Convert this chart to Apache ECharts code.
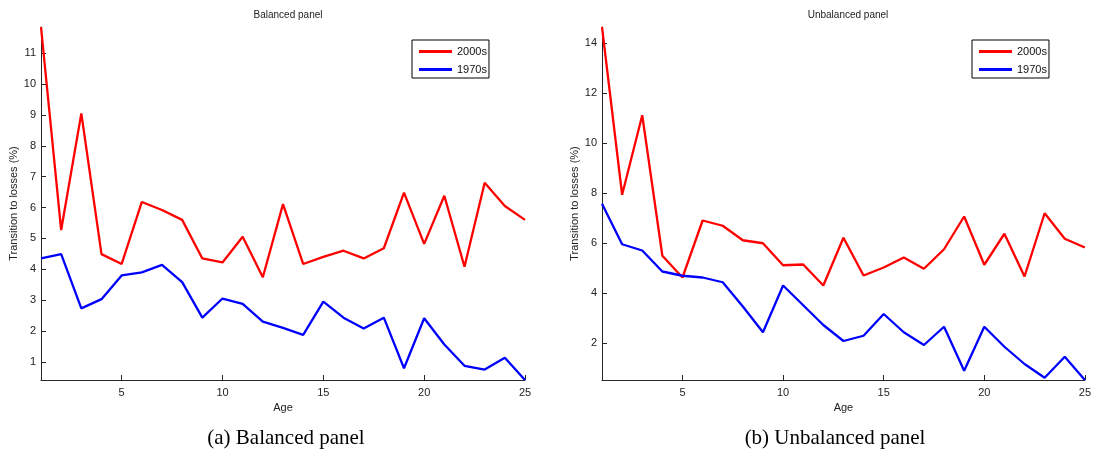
<!DOCTYPE html>
<html>
<head>
<meta charset="utf-8">
<script src="https://cdn.jsdelivr.net/npm/echarts@6/dist/echarts.min.js"></script>
<style>
html,body{margin:0;padding:0;background:#fff;}
#chart{width:1094px;height:461px;}
</style>
</head>
<body>
<div id="chart"></div>
<script>
// ---- data ----
const ages = [1,2,3,4,5,6,7,8,9,10,11,12,13,14,15,16,17,18,19,20,21,22,23,24,25];
const balanced2000s = [11.85,5.27,9.05,4.49,4.17,6.18,5.92,5.60,4.35,4.22,5.05,3.74,6.11,4.17,4.40,4.60,4.35,4.68,6.48,4.82,6.38,4.08,6.80,6.05,5.60];
const balanced1970s = [4.35,4.49,2.73,3.03,3.80,3.90,4.14,3.58,2.43,3.05,2.88,2.30,2.10,1.87,2.95,2.43,2.08,2.43,0.79,2.41,1.56,0.87,0.75,1.13,0.41];
const unbalanced2000s = [14.65,7.94,11.12,5.50,4.63,6.91,6.70,6.12,6.00,5.12,5.15,4.31,6.22,4.71,5.03,5.43,4.98,5.76,7.07,5.14,6.38,4.67,7.20,6.18,5.83];
const unbalanced1970s = [7.58,5.96,5.71,4.87,4.70,4.63,4.44,3.47,2.44,4.31,3.52,2.73,2.09,2.30,3.17,2.44,1.93,2.66,0.90,2.66,1.86,1.17,0.62,1.46,0.53];
const xTicks = [5,10,15,20,25];
const yTicksBalanced = [1,2,3,4,5,6,7,8,9,10,11];
const yTicksUnbalanced = [2,4,6,8,10,12,14];
const seriesNames = ['2000s','1970s'];
const panelTitles = ['Balanced panel','Unbalanced panel'];
const captions = ['(a) Balanced panel','(b) Unbalanced panel'];
const xName = 'Age';
const yName = 'Transition to losses (%)';

const pairs = (ys) => ages.map((a,i)=>[a, ys[i]]);
const FONT = 'Liberation Sans, Arial, sans-serif';
const axisColor = '#262626';

function xAxisFor(gi){
  return {
    type:'value', gridIndex:gi, min:ages[0], max:ages[ages.length-1],
    name:xName, nameLocation:'middle', nameGap:20,
    nameTextStyle:{fontFamily:FONT,fontSize:11,color:'#222'},
    axisLine:{show:true,lineStyle:{color:axisColor,width:1}},
    axisTick:{show:true,inside:true,length:5,customValues:xTicks,lineStyle:{color:axisColor}},
    axisLabel:{customValues:xTicks,margin:7,fontFamily:FONT,fontSize:11,color:'#222'},
    splitLine:{show:false}
  };
}
function yAxisFor(gi, ys1, ys2, ticks, gap){
  const all = ys1.concat(ys2);
  return {
    type:'value', gridIndex:gi, min:Math.min(...all), max:Math.max(...all),
    name:yName, nameLocation:'middle', nameGap:gap, nameRotate:90,
    nameTextStyle:{fontFamily:FONT,fontSize:11,color:'#222'},
    axisLine:{show:true,lineStyle:{color:axisColor,width:1}},
    axisTick:{show:true,inside:true,length:5,customValues:ticks,lineStyle:{color:axisColor}},
    axisLabel:{customValues:ticks,margin:5,fontFamily:FONT,fontSize:11,color:'#222'},
    splitLine:{show:false}
  };
}
function legendAt(left){
  return {
    left:left, top:40, orient:'vertical',
    data:seriesNames,
    borderColor:'#000', borderWidth:1, padding:[6,2,3,7],
    itemWidth:33, itemHeight:3, itemGap:7, itemTextGap:3,
    icon:'rect',
    textStyle:{fontFamily:FONT,fontSize:11,color:'#111'},
    selectedMode:false
  };
}
const lineSeries = (name, gi, ys, color) => ({
  name:name, type:'line', xAxisIndex:gi, yAxisIndex:gi,
  data:pairs(ys), symbol:'none', silent:true, animation:false,
  lineStyle:{color:color,width:2.3}, itemStyle:{color:color}
});

const chart = echarts.init(document.getElementById('chart'), null, {renderer:'canvas'});
chart.setOption({
  backgroundColor:'#fff',
  animation:false,
  title:[
    {text:panelTitles[0], left:283, top:5, textAlign:'center', textStyle:{fontFamily:FONT,fontSize:10,fontWeight:'normal',color:'#222'}},
    {text:panelTitles[1], left:843, top:5, textAlign:'center', textStyle:{fontFamily:FONT,fontSize:10,fontWeight:'normal',color:'#222'}},
    {text:captions[0], left:281, top:423, textAlign:'center', textStyle:{fontFamily:'Liberation Serif, serif',fontSize:21,fontWeight:'normal',color:'#000'}},
    {text:captions[1], left:830, top:423, textAlign:'center', textStyle:{fontFamily:'Liberation Serif, serif',fontSize:21,fontWeight:'normal',color:'#000'}}
  ],
  legend:[legendAt(412), legendAt(972)],
  grid:[
    {left:41, top:27, width:484, height:353, containLabel:false},
    {left:602, top:27, width:483, height:353, containLabel:false}
  ],
  xAxis:[xAxisFor(0), xAxisFor(1)],
  yAxis:[
    yAxisFor(0, balanced2000s, balanced1970s, yTicksBalanced, 18),
    yAxisFor(1, unbalanced2000s, unbalanced1970s, yTicksUnbalanced, 20)
  ],
  series:[
    lineSeries(seriesNames[0],0,balanced2000s,'#ff0000'),
    lineSeries(seriesNames[1],0,balanced1970s,'#0000ff'),
    lineSeries(seriesNames[0],1,unbalanced2000s,'#ff0000'),
    lineSeries(seriesNames[1],1,unbalanced1970s,'#0000ff')
  ]
});
</script>
</body>
</html>
